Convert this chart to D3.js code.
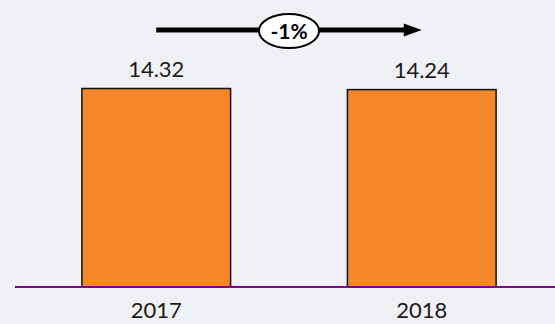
<!DOCTYPE html>
<html>
<head>
<meta charset="utf-8">
<script src="https://cdn.jsdelivr.net/npm/d3@7"></script>
<style>
html,body{margin:0;padding:0;background:#f0f1f5;}
svg{display:block;}
</style>
</head>
<body>
<script>
const years = ["2017", "2018"];
const values = [14.32, 14.24];
const changeLabel = "-1%";

const W = 555, H = 324;
const svg = d3.select("body").append("svg").attr("width", W).attr("height", H);
svg.append("rect").attr("width", W).attr("height", H).attr("fill", "#f0f1f5");

const x = d3.scaleBand().domain(years).range([23.5, 554.5]).paddingInner(0.44).paddingOuter(0.22);
const y = d3.scaleLinear().domain([0, 14.32]).range([287, 88.5]);

const data = years.map((yr, i) => ({year: yr, value: values[i]}));

svg.selectAll("rect.bar").data(data).enter().append("rect")
  .attr("class", "bar")
  .attr("x", d => x(d.year))
  .attr("y", d => y(d.value))
  .attr("width", x.bandwidth())
  .attr("height", d => y(0) - y(d.value))
  .attr("fill", "#f5862a")
  .attr("stroke", "#111")
  .attr("stroke-width", 1.5);

// baseline
svg.append("line")
  .attr("x1", 15).attr("x2", W)
  .attr("y1", y(0)).attr("y2", y(0))
  .attr("stroke", "#800080").attr("stroke-width", 2);

// value labels
svg.selectAll("text.val").data(data).enter().append("text")
  .attr("class", "val")
  .attr("x", d => x(d.year) + x.bandwidth() / 2)
  .attr("y", d => y(d.value) - 12)
  .attr("text-anchor", "middle")
  .attr("font-family", "Lato, sans-serif")
  .attr("font-size", 22)
  .attr("fill", "#1a1a1a")
  .text(d => d.value.toFixed(2));

// year labels
const xAxis = d3.axisBottom(x).tickSize(0).tickPadding(0);
const gx = svg.append("g").attr("transform", `translate(0,${y(0)})`).call(xAxis);
gx.select(".domain").remove();
gx.selectAll("text")
  .attr("y", 31)
  .attr("dy", 0)
  .attr("font-family", "Lato, sans-serif")
  .attr("font-size", 22)
  .attr("fill", "#1a1a1a");

// change arrow
const ax1 = x(years[0]) + x.bandwidth() / 2;
const ax2 = x(years[1]) + x.bandwidth() / 2;
const ay = 30;
svg.append("line")
  .attr("x1", ax1).attr("x2", ax2 - 17)
  .attr("y1", ay).attr("y2", ay)
  .attr("stroke", "#000").attr("stroke-width", 5);
svg.append("path")
  .attr("d", `M${ax2 - 18},${ay - 6.5} L${ax2},${ay} L${ax2 - 18},${ay + 6.5} Z`)
  .attr("fill", "#000");
const cx = (ax1 + ax2) / 2;
svg.append("ellipse")
  .attr("cx", cx).attr("cy", ay + 1)
  .attr("rx", 30).attr("ry", 17)
  .attr("fill", "#fff").attr("stroke", "#000").attr("stroke-width", 2);
svg.append("text")
  .attr("x", cx).attr("y", ay + 8.5)
  .attr("text-anchor", "middle")
  .attr("font-family", "Lato, sans-serif")
  .attr("font-weight", "bold")
  .attr("font-size", 21)
  .attr("fill", "#000")
  .text(changeLabel);
</script>
</body>
</html>
